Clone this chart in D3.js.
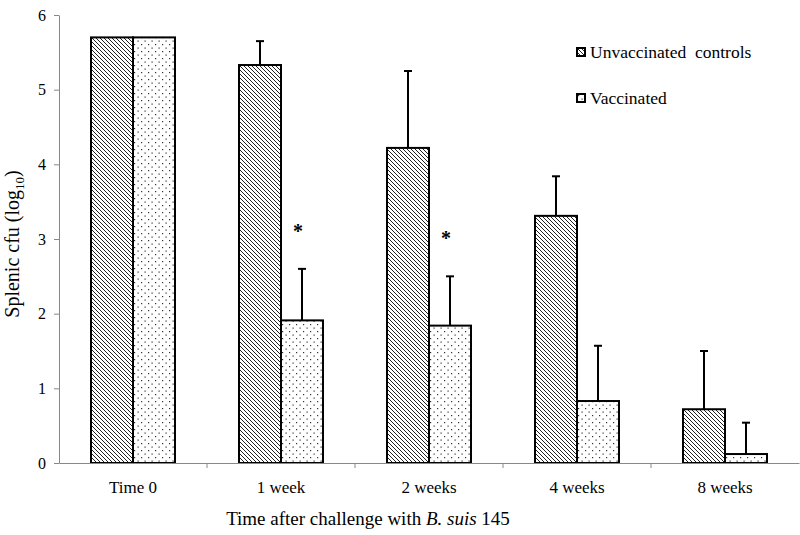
<!DOCTYPE html>
<html>
<head>
<meta charset="utf-8">
<script src="https://cdn.jsdelivr.net/npm/d3@7"></script>
<style>
  body { margin: 0; background: #fff; }
  text { font-family: "Liberation Serif", "Times New Roman", serif; fill: #000; }
</style>
</head>
<body>
<div id="chart"></div>
<script>
let categories = ["Time 0", "1 week", "2 weeks", "4 weeks", "8 weeks"];
let unvaccinated = [5.7, 5.33, 4.22, 3.31, 0.72];
let unvaccinatedErr = [0, 0.32, 1.03, 0.53, 0.78];
let vaccinated = [5.7, 1.91, 1.84, 0.83, 0.12];
let vaccinatedErr = [0, 0.69, 0.66, 0.74, 0.42];
let significant = [false, true, true, false, false];
let yTicks = [0, 1, 2, 3, 4, 5, 6];

let width = 800, height = 535;
let margin = { top: 15, right: 1, bottom: 72, left: 59 };
let innerW = width - margin.left - margin.right;
let innerH = height - margin.top - margin.bottom;

let svg = d3.select('#chart').append('svg')
    .attr('width', width)
    .attr('height', height);

let defs = svg.append('defs');
let hatch = defs.append('pattern')
    .attr('id', 'hatch')
    .attr('patternUnits', 'userSpaceOnUse')
    .attr('width', 4).attr('height', 4);
hatch.append('rect').attr('width', 4).attr('height', 4).attr('fill', '#fff');
hatch.append('path')
    .attr('d', 'M-1,-1 L5,5 M-1,3 L1,5 M3,-1 L5,1')
    .attr('stroke', '#222').attr('stroke-width', 1);

let dots = defs.append('pattern')
    .attr('id', 'dots')
    .attr('patternUnits', 'userSpaceOnUse')
    .attr('width', 7).attr('height', 7);
dots.append('rect').attr('width', 7).attr('height', 7).attr('fill', '#fff');
dots.append('rect').attr('x', 1).attr('y', 1).attr('width', 1.2).attr('height', 1.2).attr('fill', '#333');
dots.append('rect').attr('x', 4.5).attr('y', 4.5).attr('width', 1.2).attr('height', 1.2).attr('fill', '#333');

let g = svg.append('g')
    .attr('transform', 'translate(' + margin.left + ',' + margin.top + ')');

let xScale = d3.scaleBand()
    .domain(categories)
    .range([0, innerW])
    .padding(0);

let yScale = d3.scaleLinear()
    .domain([0, 6])
    .range([innerH, 0]);

let barW = 42;

let groups = g.selectAll('.grp')
    .data(categories)
    .enter().append('g')
    .attr('transform', d => 'translate(' + (xScale(d) + xScale.bandwidth() / 2) + ',0)');

// error bars (upper only)
function errBar(sel, vals, errs, off) {
    sel.each(function(d, i) {
        if (!errs[i]) return;
        let x = off + barW / 2;
        let gg = d3.select(this);
        gg.append('line')
            .attr('x1', x).attr('x2', x)
            .attr('y1', yScale(vals[i])).attr('y2', yScale(vals[i] + errs[i]))
            .attr('stroke', '#000').attr('stroke-width', 2);
        gg.append('line')
            .attr('x1', x - 4).attr('x2', x + 4)
            .attr('y1', yScale(vals[i] + errs[i])).attr('y2', yScale(vals[i] + errs[i]))
            .attr('stroke', '#000').attr('stroke-width', 2);
    });
}
errBar(groups, unvaccinated, unvaccinatedErr, -barW);
errBar(groups, vaccinated, vaccinatedErr, 0);

groups.append('rect')
    .attr('x', -barW)
    .attr('y', (d, i) => yScale(unvaccinated[i]))
    .attr('width', barW)
    .attr('height', (d, i) => innerH - yScale(unvaccinated[i]))
    .attr('fill', 'url(#hatch)')
    .attr('stroke', '#000').attr('stroke-width', 2);

groups.append('rect')
    .attr('x', 0)
    .attr('y', (d, i) => yScale(vaccinated[i]))
    .attr('width', barW)
    .attr('height', (d, i) => innerH - yScale(vaccinated[i]))
    .attr('fill', 'url(#dots)')
    .attr('stroke', '#000').attr('stroke-width', 2);

groups.filter((d, i) => significant[i])
    .append('text')
    .attr('x', barW / 2 - 4)
    .attr('y', d => {
        let i = categories.indexOf(d);
        return yScale(vaccinated[i] + vaccinatedErr[i]) - 31;
    })
    .attr('text-anchor', 'middle')
    .style('font-size', '20px')
    .style('font-weight', 'bold')
    .text('*');

// axes
let yAxis = d3.axisLeft(yScale).tickValues(yTicks).tickFormat(d3.format('d')).tickSize(5).tickSizeOuter(0);
let ya = g.append('g').attr('class', 'y axis').call(yAxis);
ya.select('.domain').attr('stroke', '#888');
ya.selectAll('.tick line').attr('stroke', '#888');
ya.selectAll('.tick text')
    .attr('x', -13)
    .style('font-size', '16px')
    .style('font-family', '"Liberation Serif", serif');

let xa = g.append('g')
    .attr('class', 'x axis')
    .attr('transform', 'translate(0,' + innerH + ')')
    .call(d3.axisBottom(xScale).tickSize(0).tickPadding(18));
xa.select('.domain').attr('stroke', '#888');
xa.selectAll('.tick text')
    .style('font-size', '17px')
    .style('font-family', '"Liberation Serif", serif');

// category boundary ticks
g.selectAll('.sep')
    .data(categories.slice(1))
    .enter().append('line')
    .attr('x1', d => xScale(d)).attr('x2', d => xScale(d))
    .attr('y1', innerH).attr('y2', innerH + 5)
    .attr('stroke', '#888');

// axis titles
let yt = svg.append('text')
    .attr('transform', 'translate(19,' + 244 + ') rotate(-90)')
    .attr('text-anchor', 'middle')
    .style('font-size', '20px');
yt.append('tspan').text('Splenic cfu (log');
yt.append('tspan').attr('dy', 5).style('font-size', '13px').text('10');
yt.append('tspan').attr('dy', -5).text(')');

let xt = svg.append('text')
    .attr('x', 368).attr('y', 525)
    .attr('text-anchor', 'middle')
    .style('font-size', '19px');
xt.append('tspan').text('Time after challenge with ');
xt.append('tspan').style('font-style', 'italic').text('B. suis');
xt.append('tspan').text(' 145');

// legend
let legend = svg.append('g').attr('transform', 'translate(577,48)');
let legendItems = [
    { label: 'Unvaccinated\u00a0 controls', fill: 'url(#hatch)' },
    { label: 'Vaccinated', fill: 'url(#dots)' }
];
let li = legend.selectAll('g')
    .data(legendItems)
    .enter().append('g')
    .attr('transform', (d, i) => 'translate(0,' + i * 46 + ')');
li.append('rect')
    .attr('width', 8).attr('height', 8)
    .attr('fill', d => d.fill)
    .attr('stroke', '#000').attr('stroke-width', 2);
li.append('text')
    .attr('x', 13).attr('y', 10)
    .style('font-size', '17.5px')
    .text(d => d.label);
</script>
</body>
</html>
